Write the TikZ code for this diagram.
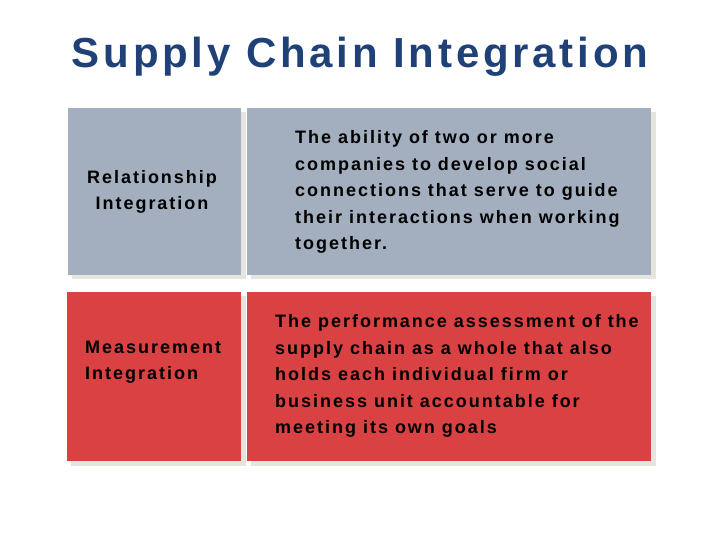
\documentclass[tikz,border=0pt]{standalone}
\usepackage{fontspec}
\setmainfont{Liberation Sans}
\newfontfamily\spaced[LetterSpace=11]{Liberation Sans}
\newfontfamily\tspaced[LetterSpace=9]{Liberation Sans}
\definecolor{ttl}{HTML}{1F4178}
\definecolor{bgr}{HTML}{A3AEBE}
\definecolor{rd}{HTML}{D94142}
\definecolor{shd}{HTML}{E6E4DE}
\tikzset{box/.style={anchor=north west,inner sep=0pt,draw=none},
 txt/.style={font=\spaced\bfseries\fontsize{18}{26.5}\selectfont,text=black,inner sep=0pt}}
\begin{document}
\begin{tikzpicture}[x=1pt,y=-1pt]
\useasboundingbox (0,0) rectangle (720,540);
\node[font=\tspaced\bfseries\fontsize{42}{44}\selectfont,text=ttl] (title) at (360,57) {Supply Chain Integration};
% shadows
\foreach \x/\y/\w/\h in {68/108/174/167,247/108/405/167,67/292/175/170,247/292/405/170}
  \fill[shd] (\x+4,\y+4) rectangle ++(\w,\h);
\fill[bgr] (68,108) rectangle (241,275);
\node[box] (a) at (68,108) {};
\fill[bgr] (247,108) rectangle (651,275);
\node[box] (b) at (247,108) {};
\fill[rd] (67,292) rectangle (241,461);
\node[box] (c) at (67,292) {};
\fill[rd] (247,292) rectangle (651,461);
\node[box] (d) at (247,292) {};
\node[txt,align=center] (ta) at (152,192) {Relationship\\Integration};
\node[txt,align=left,anchor=west] (tb) at (295,192) {The ability of two or more\\companies to develop social\\connections that serve to guide\\their interactions when working\\together.};
\node[txt,align=left,anchor=west] (tc) at (85,362) {Measurement\\Integration};
\node[txt,align=left,anchor=west] (td) at (275,376) {The performance assessment of the\\supply chain as a whole that also\\holds each individual firm or\\business unit accountable for\\meeting its own goals};
\end{tikzpicture}
\end{document}
